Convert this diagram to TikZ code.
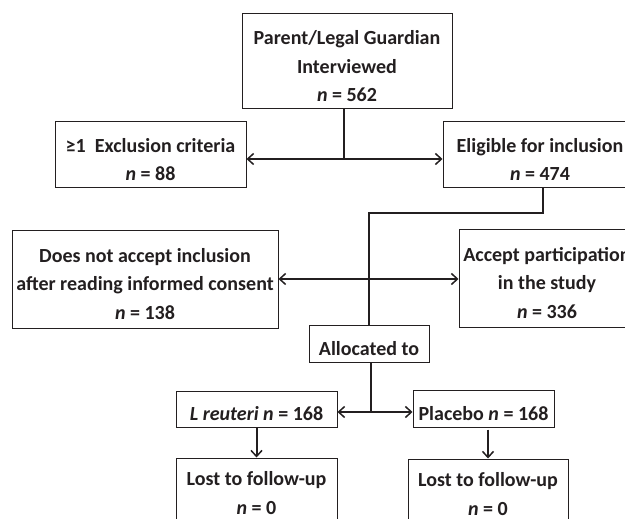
\documentclass[tikz,border=0pt]{standalone}
\usepackage{fontspec}
\setmainfont{Carlito}
\usetikzlibrary{arrows.meta}
\definecolor{ink}{HTML}{231F20}
\newcommand{\tallstrut}{\rule{0pt}{23.5pt}}
\begin{document}
\begin{tikzpicture}[x=1pt,y=-1pt,
  box/.style={draw=ink,line width=1pt,align=center,inner sep=0pt,text=ink,
    font=\fontsize{20}{28.5}\selectfont\bfseries},
  conn/.style={draw=ink,line width=2pt},
  tipend/.style={-{Straight Barb[length=6pt,width=11pt,line width=1.5pt]}},
  tipboth/.style={{Straight Barb[length=6pt,width=11pt,line width=1.5pt]}-{Straight Barb[length=6pt,width=11pt,line width=1.5pt]}},
]
\useasboundingbox (0,0) rectangle (625,519);
\clip (0,0) rectangle (625,519);
\fill[white] (0,0) rectangle (625,519);

\node[box,minimum width=210pt,minimum height=95pt] (top) at (347,61.5)
  {\tallstrut Parent/Legal Guardian\\Interviewed\\\textit{n} = 562};
\node[box,minimum width=191pt,minimum height=66pt] (excl) at (150.5,155)
  {\tallstrut≥1\ \ Exclusion criteria\\\textit{n} = 88};
\node[box,minimum width=194pt,minimum height=66pt] (elig) at (540,155)
  {\tallstrut Eligible for inclusion\\\textit{n} = 474};
\node[box,minimum width=266pt,minimum height=98pt] (notacc) at (145,279)
  {\tallstrut Does not accept inclusion\\after reading informed consent\\\textit{n} = 138};
\node[box,minimum width=176pt,minimum height=98pt] (accept) at (547,278)
  {\tallstrut Accept participation\\in the study\\\textit{n} = 336};
\node[box,minimum width=120pt,minimum height=37pt] (alloc) at (369,343.5)
  {\tallstrut Allocated to};
\node[box,minimum width=161pt,minimum height=36pt] (lr) at (256.5,409)
  {\tallstrut\textit{L reuteri n} = 168};
\node[box,minimum width=141pt,minimum height=37pt] (pl) at (483.5,408.5)
  {\tallstrut Placebo \textit{n} = 168};
\node[box,minimum width=161pt,minimum height=70pt] (lost1) at (256.5,493)
  {Lost to follow-up\\\textit{n} = 0};
\node[box,minimum width=160pt,minimum height=70pt] (lost2) at (488,494)
  {Lost to follow-up\\\textit{n} = 0};

\coordinate (j1) at (344,159);
\coordinate (j2) at (543,213);
\coordinate (j3) at (371,412);

\draw[conn] (j1 |- top.south) -- (j1);
\draw[conn,tipend] (j1) -- (excl.east |- j1);
\draw[conn,tipend] (j1) -- (elig.west |- j1);

\draw[conn] (j2 |- elig.south) -- (j2) -- (j2 -| alloc.north) -- (alloc.north);
\draw[conn,tipboth] (notacc.east) -- (notacc.east -| accept.west);

\draw[conn] (j3 |- alloc.south) -- (j3);
\draw[conn,tipend] (j3) -- (lr.east |- j3);
\draw[conn,tipend] (j3) -- (pl.west |- j3);

\draw[conn,tipend] (lr.south) -- (lost1.north -| lr.south);
\draw[conn,tipend,shorten <=2pt] (lost2.north |- pl.south) -- (lost2.north);
\end{tikzpicture}
\end{document}
